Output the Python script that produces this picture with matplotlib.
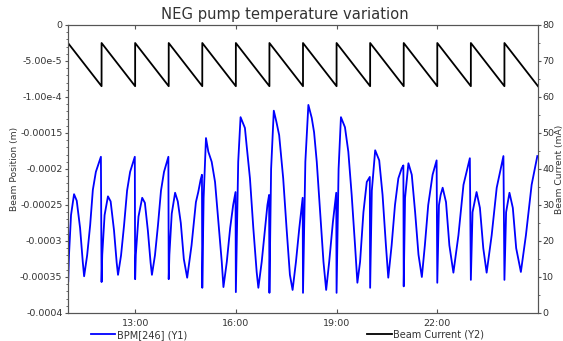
# NEG pump temperature variation: BPM position (Y1) vs beam current (Y2)

import numpy as np
import matplotlib
matplotlib.use('Agg')
import matplotlib.pyplot as plt
from matplotlib.ticker import AutoMinorLocator

TEXT = '#333333'
SPINE = '#555555'

# time axis in hours since midnight (25 = 01:00 next day)
x_ticks = [13, 16, 19, 22]
x_tick_labels = ['13:00', '16:00', '19:00', '22:00']

y1_ticks = [0, -0.5e-4, -1.0e-4, -1.5e-4, -2.0e-4, -2.5e-4, -3.0e-4, -3.5e-4, -4.0e-4]
y1_tick_labels = ['0', '-5.00e-5', '-1.00e-4', '-0.00015', '-0.0002',
                  '-0.00025', '-0.0003', '-0.00035', '-0.0004']
y2_ticks = [0, 10, 20, 30, 40, 50, 60, 70, 80]

# beam current (mA), refilled every hour
current_hours = [11.0, 12.0, 12.0, 13.0, 13.0, 14.0, 14.0, 15.0, 15.0, 16.0,
                 16.0, 17.0, 17.0, 18.0, 18.0, 19.0, 19.0, 20.0, 20.0, 21.0,
                 21.0, 22.0, 22.0, 23.0, 23.0, 24.0, 24.0, 25.0]
current_ma = [75, 63, 75, 63, 75, 63, 75, 63, 75, 63,
              75, 63, 75, 63, 75, 63, 75, 63, 75, 63,
              75, 63, 75, 63, 75, 63, 75, 63]

# BPM[246] position, in units of 1e-4 m
bpm_hours = [
    11.00, 11.005, 11.03, 11.09, 11.18, 11.26, 11.36, 11.44, 11.48, 11.57, 11.66, 11.74, 11.83, 11.98,
    12.00, 12.02, 12.09, 12.19, 12.27, 12.37, 12.45, 12.49, 12.58, 12.67, 12.76, 12.85, 12.99,
    13.00, 13.02, 13.10, 13.21, 13.29, 13.38, 13.46, 13.50, 13.59, 13.68, 13.77, 13.86, 13.99,
    14.00, 14.02, 14.09, 14.19, 14.27, 14.36, 14.45, 14.55, 14.68, 14.81, 14.88, 14.95, 14.99,
    15.00, 15.04, 15.11, 15.18, 15.28, 15.38, 15.48, 15.58, 15.63, 15.73, 15.83, 15.92, 15.99,
    16.00, 16.07, 16.14, 16.27, 16.32, 16.42, 16.52, 16.62, 16.67, 16.77, 16.87, 16.94, 16.99,
    17.00, 17.05, 17.13, 17.21, 17.29, 17.41, 17.51, 17.61, 17.69, 17.79, 17.89, 17.99,
    18.00, 18.07, 18.16, 18.26, 18.33, 18.41, 18.51, 18.61, 18.69, 18.78, 18.89, 18.99,
    19.00, 19.06, 19.13, 19.25, 19.35, 19.45, 19.55, 19.62, 19.70, 19.80, 19.90, 19.99,
    20.00, 20.05, 20.15, 20.27, 20.37, 20.47, 20.54, 20.64, 20.74, 20.84, 20.94, 20.99,
    21.00, 21.04, 21.14, 21.24, 21.34, 21.44, 21.54, 21.63, 21.73, 21.86, 21.98,
    22.00, 22.05, 22.10, 22.16, 22.26, 22.36, 22.48, 22.63, 22.78, 22.97,
    23.00, 23.05, 23.17, 23.27, 23.37, 23.47, 23.62, 23.77, 23.97,
    24.00, 24.05, 24.15, 24.25, 24.35, 24.49, 24.64, 24.81, 24.98,
]
bpm_pos = [
    -3.19, -3.57, -3.19, -2.64, -2.35, -2.44, -2.82, -3.29, -3.49, -3.20, -2.78, -2.29, -2.04, -1.83,
    -3.57, -3.19, -2.64, -2.38, -2.45, -2.85, -3.30, -3.47, -3.20, -2.78, -2.30, -2.04, -1.83,
    -3.53, -3.19, -2.66, -2.40, -2.47, -2.86, -3.30, -3.47, -3.20, -2.78, -2.30, -2.04, -1.83,
    -3.53, -3.19, -2.62, -2.33, -2.45, -2.75, -3.25, -3.51, -3.06, -2.46, -2.32, -2.15, -2.08,
    -3.65, -2.40, -1.57, -1.76, -1.90, -2.18, -2.74, -3.29, -3.64, -3.29, -2.82, -2.50, -2.32,
    -3.71, -1.90, -1.28, -1.43, -1.67, -2.13, -2.82, -3.43, -3.65, -3.29, -2.82, -2.50, -2.36,
    -3.72, -2.00, -1.19, -1.35, -1.53, -2.13, -2.82, -3.47, -3.68, -3.29, -2.82, -2.40,
    -3.72, -1.90, -1.11, -1.29, -1.49, -1.90, -2.60, -3.29, -3.68, -3.29, -2.74, -2.33,
    -3.72, -2.00, -1.28, -1.42, -1.76, -2.36, -3.06, -3.58, -3.29, -2.60, -2.18, -2.11,
    -3.65, -2.30, -1.74, -1.88, -2.36, -3.06, -3.51, -3.06, -2.50, -2.13, -1.99, -1.95,
    -3.63, -2.40, -1.92, -2.08, -2.60, -3.19, -3.50, -3.06, -2.50, -2.08, -1.88,
    -3.58, -2.50, -2.36, -2.26, -2.46, -3.06, -3.44, -2.92, -2.22, -1.85,
    -3.54, -2.60, -2.32, -2.54, -3.10, -3.44, -2.92, -2.26, -1.82,
    -3.54, -2.60, -2.33, -2.54, -3.10, -3.43, -2.92, -2.22, -1.82,
]

plt.rcParams['font.family'] = 'DejaVu Sans'
plt.rcParams['text.color'] = TEXT
plt.rcParams['axes.labelcolor'] = TEXT
plt.rcParams['xtick.color'] = SPINE
plt.rcParams['ytick.color'] = SPINE
plt.rcParams['xtick.labelcolor'] = TEXT
plt.rcParams['ytick.labelcolor'] = TEXT

fig = plt.figure(figsize=(5.63, 3.41), dpi=100)
ax = fig.add_axes([68 / 563, 1 - 313 / 341, 470 / 563, 288 / 341])
ax2 = ax.twinx()

l1, = ax.plot(bpm_hours, np.array(bpm_pos) * 1e-4, color='#0000ff', lw=1.3,
              label='BPM[246] (Y1)')
l2, = ax2.plot(current_hours, current_ma, color='black', lw=1.3,
               label='Beam Current (Y2)')

ax.set_xlim(11, 25)
ax.set_ylim(-4.0e-4, 0)
ax2.set_ylim(0, 80)

ax.set_xticks(x_ticks)
ax.set_xticklabels(x_tick_labels)
ax.set_yticks(y1_ticks)
ax.set_yticklabels(y1_tick_labels)
ax2.set_yticks(y2_ticks)

ax.yaxis.set_minor_locator(AutoMinorLocator(5))
ax2.yaxis.set_minor_locator(AutoMinorLocator(2))

ax.tick_params(axis='x', direction='in', top=True, length=3, labelsize=6.8, pad=4)
ax.tick_params(axis='y', direction='out', length=2.5, labelsize=6.8, pad=1.5)
ax.tick_params(axis='y', which='minor', direction='out', length=1.5)
ax2.tick_params(axis='y', direction='out', length=2.5, labelsize=6.8, pad=0.5)
ax2.tick_params(axis='y', which='minor', direction='out', length=1.5)

for a in (ax, ax2):
    for s in a.spines.values():
        s.set_color(SPINE)
        s.set_linewidth(0.8)

ax.set_ylabel('Beam Position (m)', fontsize=6.6)
ax.yaxis.set_label_coords(-0.104, 0.5)
ax2.set_ylabel('Beam Current (mA)', fontsize=6.6)
ax2.yaxis.set_label_coords(1.036, 0.5)

fig.suptitle('NEG pump temperature variation', x=0.506, y=1 - 15 / 341,
             va='center', fontsize=10.6)

fig.legend(handles=[l1, l2], loc='center', bbox_to_anchor=(0.511, 0.018),
           ncol=2, frameon=False, fontsize=7, handlelength=2.5,
           handletextpad=0.2, columnspacing=18.5, borderaxespad=0)

fig.savefig('out.png', dpi=100)
